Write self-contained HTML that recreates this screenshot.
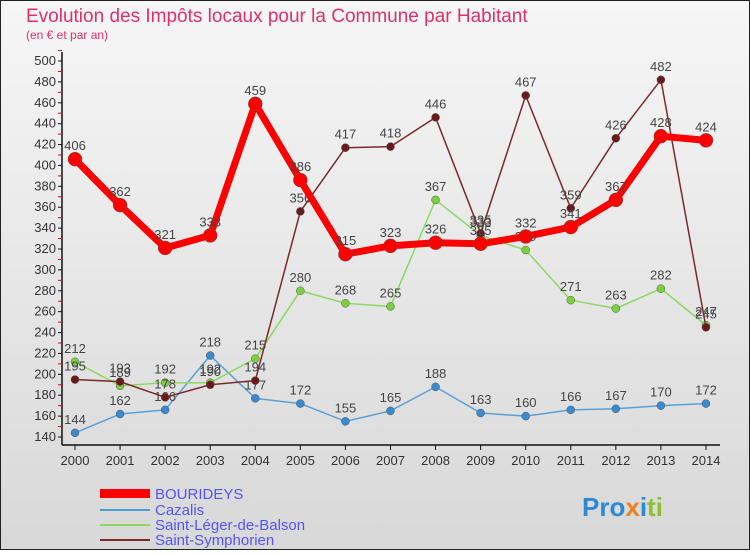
<!DOCTYPE html>
<html><head><meta charset="utf-8"><style>
body{margin:0;width:750px;height:550px;overflow:hidden;font-family:"Liberation Sans",sans-serif}
svg text{font-family:"Liberation Sans",sans-serif}
</style></head><body>
<svg width="750" height="550">
<defs><linearGradient id="bg" x1="0" y1="0" x2="0" y2="1"><stop offset="0" stop-color="#f6f6f6"/><stop offset="1" stop-color="#d8d8d8"/></linearGradient></defs>
<rect x="0.5" y="0.5" width="749" height="549" fill="url(#bg)" stroke="#222"/>
<text x="26" y="22" font-size="19" fill="#e0306a">Evolution des Impôts locaux pour la Commune par Habitant</text>
<text x="26" y="39" font-size="12" fill="#e0306a">(en € et par an)</text>
<g id="axes"></g>
<g id="series"></g>
<g id="legend">
<rect x="100" y="489" width="50" height="9" fill="#ff0000"/>
<text x="155" y="499" font-size="15" fill="#5555ee">BOURIDEYS</text>
<line x1="100" y1="510" x2="150" y2="510" stroke="#4a9ad6" stroke-width="2"/>
<text x="155" y="515" font-size="15" fill="#5555ee">Cazalis</text>
<line x1="100" y1="525" x2="150" y2="525" stroke="#8cd860" stroke-width="2"/>
<text x="155" y="530" font-size="15" fill="#5555ee">Saint-Léger-de-Balson</text>
<line x1="100" y1="540" x2="150" y2="540" stroke="#7a2a2a" stroke-width="2"/>
<text x="155" y="545" font-size="15" fill="#5555ee">Saint-Symphorien</text>
</g>
<text x="582" y="516" font-size="26" font-weight="bold" fill="#2a8ad6">Pro<tspan fill="#f08020">x</tspan><tspan fill="#2a8ad6">i</tspan><tspan fill="#8cc030">ti</tspan></text>
</svg>
<script>
const years=[2000,2001,2002,2003,2004,2005,2006,2007,2008,2009,2010,2011,2012,2013,2014];
const bourideys=[406,362,321,333,459,386,315,323,326,325,332,341,367,428,424];
const cazalis=[144,162,166,218,177,172,155,165,188,163,160,166,167,170,172];
const leger=[212,189,192,192,215,280,268,265,367,333,319,271,263,282,247];
const symph=[195,193,178,190,194,356,417,418,446,335,467,359,426,482,245];
const yTicks=[140,160,180,200,220,240,260,280,300,320,340,360,380,400,420,440,460,480,500];
const NS="http://www.w3.org/2000/svg";
function x(i){return 75+i*45.07;}
function y(v){return 437-(v-140)*(376/360);}
function mk(tag,attrs,parent){const e=document.createElementNS(NS,tag);for(const k in attrs)e.setAttribute(k,attrs[k]);parent.appendChild(e);return e;}
const ax=document.getElementById('axes');
let l=mk('line',{x1:62,y1:52,x2:62,y2:445,stroke:'#111','stroke-width':1.5},ax);


l=mk('line',{x1:62,y1:445,x2:720,y2:445,stroke:'#111','stroke-width':1.5},ax);


yTicks.forEach(v=>{
 const t=mk('line',{x1:58,x2:62,y1:y(v),y2:y(v),stroke:'#111'},ax);
 
 
 const m=mk('line',{x1:58,x2:62,y1:y(v+10),y2:y(v+10),stroke:'#e00'},ax);
 
 
 const tx=mk('text',{x:56,y:y(v)+4,'font-size':13,'text-anchor':'end',fill:'#333'},ax);
 tx.textContent=v;
 
 
});
years.forEach((yr,i)=>{
 const t=mk('line',{x1:x(i),x2:x(i),y1:445,y2:450,stroke:'#111'},ax);
 
 
 const tx=mk('text',{x:x(i),y:465,'font-size':13,'text-anchor':'middle',fill:'#333'},ax);
 tx.textContent=yr;
 
 
});
const sg=document.getElementById('series');
function series(data,color,w,r,name,dot){
 const g=mk('g',{},sg);
 
 
 const p=mk('polyline',{points:data.map((v,i)=>x(i)+','+y(v)).join(' '),fill:'none',stroke:color,'stroke-width':w,'stroke-linejoin':'round'},g);
 
 
 data.forEach((v,i)=>{
  const c=mk('circle',{cx:x(i),cy:y(v),r:r,fill:dot,stroke:'#555','stroke-width':0.5},g);
  
  
  const t=mk('text',{x:x(i),y:y(v)-9,'font-size':13,'text-anchor':'middle',fill:'#444'},g);
  t.textContent=v;
  
  
 });
}
series(cazalis,'#5aa0d6',1.5,4,'cazalis','#3a8ad0');
series(leger,'#8cd860',1.5,4,'saint-leger','#7cd040');
series(symph,'#7a2a2a',1.5,4,'saint-symphorien','#6a1a1a');
series(bourideys,'#ff0000',7,7,'bourideys','#ff0000');
</script>
</body></html>
